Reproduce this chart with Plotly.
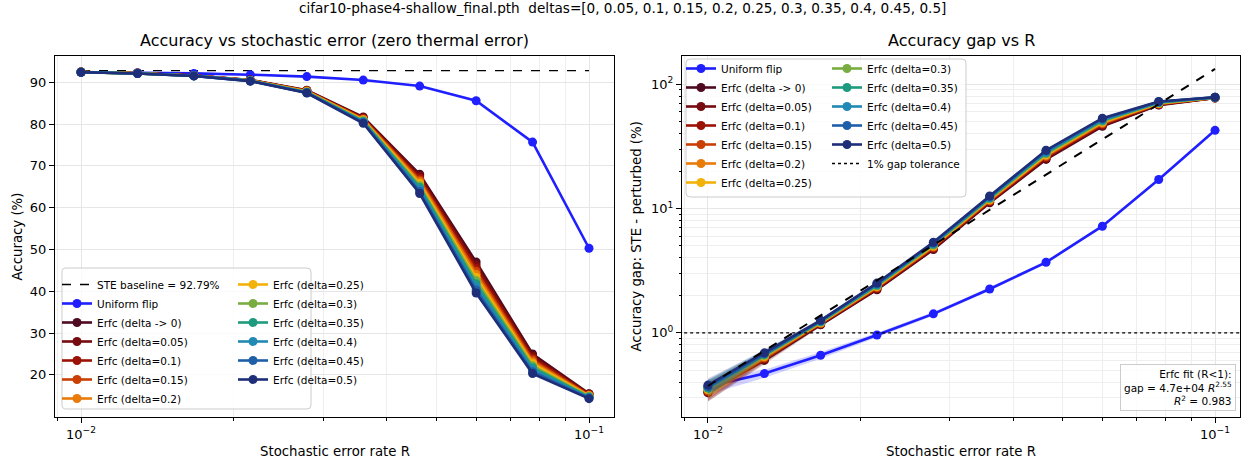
import plotly.graph_objects as go

# ---------------- data ----------------
R = [0.01, 0.01292, 0.01668, 0.02154, 0.02783, 0.03594, 0.04642, 0.05995, 0.07743, 0.1]
ste_baseline = 92.79

uniform_acc = [92.42, 92.32, 92.13, 91.83, 91.37, 90.54, 89.10, 85.59, 75.69, 50.29]
uniform_std = [0.05, 0.035, 0.04, 0.04, 0.05, 0.07, 0.10, 0.15, 0.30, 0.50]

erfc_labels = ["Erfc (delta -> 0)", "Erfc (delta=0.05)", "Erfc (delta=0.1)", "Erfc (delta=0.15)",
               "Erfc (delta=0.2)", "Erfc (delta=0.25)", "Erfc (delta=0.3)", "Erfc (delta=0.35)",
               "Erfc (delta=0.4)", "Erfc (delta=0.45)", "Erfc (delta=0.5)"]
erfc_acc_d000 = [92.46, 92.19, 91.63, 90.57, 88.12, 81.69, 67.99, 46.99, 24.99, 15.49]
erfc_acc_d005 = [92.46, 92.18, 91.62, 90.54, 88.05, 81.55, 67.55, 46.25, 24.50, 15.38]
erfc_acc_d010 = [92.45, 92.17, 91.61, 90.51, 87.98, 81.40, 67.10, 45.50, 24.05, 15.25]
erfc_acc_d015 = [92.45, 92.16, 91.60, 90.48, 87.92, 81.25, 66.65, 44.80, 23.60, 15.15]
erfc_acc_d020 = [92.44, 92.15, 91.59, 90.45, 87.85, 81.10, 66.20, 44.05, 23.10, 15.02]
erfc_acc_d025 = [92.44, 92.14, 91.58, 90.42, 87.78, 80.95, 65.70, 43.30, 22.65, 14.90]
erfc_acc_d030 = [92.43, 92.13, 91.57, 90.40, 87.71, 80.80, 65.25, 42.55, 22.15, 14.78]
erfc_acc_d035 = [92.43, 92.12, 91.56, 90.37, 87.64, 80.65, 64.80, 41.80, 21.70, 14.66]
erfc_acc_d040 = [92.42, 92.11, 91.55, 90.34, 87.58, 80.50, 64.30, 41.05, 21.20, 14.54]
erfc_acc_d045 = [92.42, 92.11, 91.54, 90.31, 87.51, 80.35, 63.85, 40.30, 20.75, 14.42]
erfc_acc_d050 = [92.41, 92.10, 91.53, 90.28, 87.44, 80.19, 63.39, 39.59, 20.29, 14.29]
erfc_acc = [erfc_acc_d000, erfc_acc_d005, erfc_acc_d010, erfc_acc_d015, erfc_acc_d020, erfc_acc_d025,
            erfc_acc_d030, erfc_acc_d035, erfc_acc_d040, erfc_acc_d045, erfc_acc_d050]
erfc_std = [0.05, 0.04, 0.04, 0.05, 0.07, 0.10, 0.20, 0.30, 0.30, 0.20]

fit_a = 4.7e4
fit_b = 2.55
fit_r2 = 0.983
tolerance = 1.0

# ---------------- style ----------------
W, H = 1244, 463
FONT = "DejaVu Sans"
uniform_color = "#1f1fff"
erfc_colors = ["#4e0a20", "#760b10", "#9b1206", "#c93f04", "#e97b0b", "#f2b20a",
               "#79ad41", "#1e9a7e", "#2189b3", "#1e5fa8", "#1e2e78"]
GRID = "#e6e6e6"
MINOR_GRID = "#eeeeee"


def px_x(p):
    return p / W


def px_y(p):
    return 1 - p / H


def rgba(hexc, a):
    h = hexc.lstrip("#")
    return "rgba(%d,%d,%d,%.2f)" % (int(h[0:2], 16), int(h[2:4], 16), int(h[4:6], 16), a)


fig = go.Figure()

# ---------- left panel ----------
fig.add_trace(go.Scatter(x=[R[0], R[-1]], y=[ste_baseline, ste_baseline], xaxis="x", yaxis="y",
                         mode="lines", line=dict(color="black", width=1.3, dash="dash"),
                         name="STE baseline = %.2f%%" % ste_baseline, legend="legend"))
fig.add_trace(go.Scatter(x=R, y=uniform_acc, xaxis="x", yaxis="y", mode="lines+markers",
                         line=dict(color=uniform_color, width=2.6), marker=dict(size=9, color=uniform_color),
                         name="Uniform flip", legend="legend"))
for i, (lab, acc) in enumerate(zip(erfc_labels, erfc_acc)):
    fig.add_trace(go.Scatter(x=R, y=acc, xaxis="x", yaxis="y", mode="lines+markers",
                             line=dict(color=erfc_colors[i], width=2.6),
                             marker=dict(size=9, color=erfc_colors[i]),
                             name=lab, legend="legend" if i < 5 else "legend2"))

# ---------- right panel ----------
u_gap = [ste_baseline - a for a in uniform_acc]
u_hi = [g + s for g, s in zip(u_gap, uniform_std)]
u_lo = [g - s for g, s in zip(u_gap, uniform_std)]
fig.add_trace(go.Scatter(x=R + R[::-1], y=u_hi + u_lo[::-1], xaxis="x2", yaxis="y2", mode="lines",
                         fill="toself", fillcolor=rgba(uniform_color, 0.2), line=dict(width=0),
                         showlegend=False, hoverinfo="skip"))
fig.add_trace(go.Scatter(x=R, y=u_gap, xaxis="x2", yaxis="y2", mode="lines+markers",
                         line=dict(color=uniform_color, width=2.6), marker=dict(size=9, color=uniform_color),
                         name="Uniform flip", legend="legend3"))
for i, (lab, acc) in enumerate(zip(erfc_labels, erfc_acc)):
    gap = [ste_baseline - a for a in acc]
    hi = [g + s for g, s in zip(gap, erfc_std)]
    lo = [g - s for g, s in zip(gap, erfc_std)]
    fig.add_trace(go.Scatter(x=R + R[::-1], y=hi + lo[::-1], xaxis="x2", yaxis="y2", mode="lines",
                             fill="toself", fillcolor=rgba(erfc_colors[i], 0.2), line=dict(width=0),
                             showlegend=False, hoverinfo="skip"))
    fig.add_trace(go.Scatter(x=R, y=gap, xaxis="x2", yaxis="y2", mode="lines+markers",
                             line=dict(color=erfc_colors[i], width=2.6),
                             marker=dict(size=9, color=erfc_colors[i]),
                             name=lab, legend="legend3" if i < 6 else "legend4"))
fit_y = [fit_a * r ** fit_b for r in R]
fig.add_trace(go.Scatter(x=R, y=fit_y, xaxis="x2", yaxis="y2", mode="lines",
                         line=dict(color="black", width=2, dash="dash"), showlegend=False))
fig.add_trace(go.Scatter(x=[0.0085, 0.12], y=[tolerance, tolerance], xaxis="x2", yaxis="y2", mode="lines",
                         line=dict(color="black", width=1.3, dash="dot"),
                         name="1% gap tolerance", legend="legend4"))

# ---------- axes ----------
minor_x = [0.009, 0.02, 0.03, 0.04, 0.05, 0.06, 0.07, 0.08, 0.09]
minor_y2 = [0.3, 0.4, 0.5, 0.6, 0.7, 0.8, 0.9, 2, 3, 4, 5, 6, 7, 8, 9, 20, 30, 40, 50, 60, 70, 80, 90]
dom_left = [px_x(55), px_x(614)]
dom_right = [px_x(682), px_x(1240)]
dom_y = [px_y(417), px_y(56)]
tickfont = dict(family=FONT, size=13, color="black")

common = dict(showline=True, linecolor="black", linewidth=1, mirror=True, ticks="outside",
              ticklen=5, tickcolor="black", showgrid=True, gridcolor=GRID, gridwidth=1,
              zeroline=False, tickfont=tickfont)
log_x = dict(type="log", range=[-2.0512, -0.9508], tickvals=[0.01, 0.1],
             ticktext=["10<sup>−2</sup>", "10<sup>−1</sup>"],
             minor=dict(tickvals=minor_x, ticks="outside", ticklen=2.5, tickcolor="black",
                        showgrid=True, gridcolor=MINOR_GRID, gridwidth=1), **common)

fig.update_layout(
    xaxis=dict(domain=dom_left, anchor="y", **log_x),
    yaxis=dict(domain=dom_y, anchor="x", range=[9.9, 96.3], tickvals=[20, 30, 40, 50, 60, 70, 80, 90], **common),
    xaxis2=dict(domain=dom_right, anchor="y2", **log_x),
    yaxis2=dict(domain=dom_y, anchor="x2", type="log", range=[-0.677, 2.226], tickvals=[1, 10, 100],
                ticktext=["10<sup>0</sup>", "10<sup>1</sup>", "10<sup>2</sup>"],
                minor=dict(tickvals=minor_y2, ticks="outside", ticklen=2.5, tickcolor="black",
                           showgrid=True, gridcolor=MINOR_GRID, gridwidth=1), **common),
)

# ---------- legends ----------
leg_common = dict(bgcolor="rgba(0,0,0,0)", borderwidth=0, font=dict(family=FONT, size=10.5, color="black"),
                  xanchor="left", yanchor="top", itemwidth=30, tracegroupgap=0)
fig.update_layout(
    legend=dict(x=px_x(57), y=px_y(270), **leg_common),
    legend2=dict(x=px_x(233), y=px_y(270), **leg_common),
    legend3=dict(x=px_x(681), y=px_y(54), **leg_common),
    legend4=dict(x=px_x(827), y=px_y(54), **leg_common),
)


def rounded_box(x0, y0, x1, y1, r=4):
    X0, X1 = px_x(x0), px_x(x1)
    Y0, Y1 = px_y(y1), px_y(y0)
    rx, ry = r / W, r / H
    path = ("M %f,%f L %f,%f Q %f,%f %f,%f L %f,%f Q %f,%f %f,%f L %f,%f Q %f,%f %f,%f L %f,%f Q %f,%f %f,%f Z" % (
        X0 + rx, Y0, X1 - rx, Y0, X1, Y0, X1, Y0 + ry, X1, Y1 - ry, X1, Y1, X1 - rx, Y1,
        X0 + rx, Y1, X0, Y1, X0, Y1 - ry, X0, Y0 + ry, X0, Y0, X0 + rx, Y0))
    return dict(type="path", path=path, xref="paper", yref="paper", fillcolor="rgba(255,255,255,0.8)",
                line=dict(color="#cccccc", width=1), layer="above")


fig.update_layout(shapes=[rounded_box(62, 268, 311, 409), rounded_box(686, 59, 966, 197)])

# ---------- text ----------
ann = []
ann.append(dict(text="cifar10-phase4-shallow_final.pth  deltas=[0, 0.05, 0.1, 0.15, 0.2, 0.25, 0.3, 0.35, 0.4, 0.45, 0.5]",
                x=0.5, y=px_y(8), xref="paper", yref="paper", showarrow=False, xanchor="center", yanchor="middle",
                font=dict(family=FONT, size=13.6, color="black")))
ann.append(dict(text="Accuracy vs stochastic error (zero thermal error)", x=(dom_left[0] + dom_left[1]) / 2,
                y=px_y(41), xref="paper", yref="paper", showarrow=False, xanchor="center", yanchor="middle",
                font=dict(family=FONT, size=16, color="black")))
ann.append(dict(text="Accuracy gap vs R", x=(dom_right[0] + dom_right[1]) / 2,
                y=px_y(41), xref="paper", yref="paper", showarrow=False, xanchor="center", yanchor="middle",
                font=dict(family=FONT, size=16, color="black")))
for d in (dom_left, dom_right):
    ann.append(dict(text="Stochastic error rate R", x=(d[0] + d[1]) / 2, y=px_y(451), xref="paper", yref="paper",
                    showarrow=False, xanchor="center", yanchor="middle", font=dict(family=FONT, size=13.3, color="black")))
ann.append(dict(text="Accuracy (%)", x=px_x(17), y=(dom_y[0] + dom_y[1]) / 2, xref="paper", yref="paper",
                textangle=-90, showarrow=False, xanchor="center", yanchor="middle",
                font=dict(family=FONT, size=13.3, color="black")))
ann.append(dict(text="Accuracy gap: STE - perturbed (%)", x=px_x(636), y=(dom_y[0] + dom_y[1]) / 2, xref="paper",
                yref="paper", textangle=-90, showarrow=False, xanchor="center", yanchor="middle",
                font=dict(family=FONT, size=13.3, color="black")))
ann.append(dict(text="Erfc fit (R<1):<br>gap = %.1e <i>R</i><sup>%.2f</sup><br><i>R</i><sup>2</sup> = %.3f"
                     % (fit_a, fit_b, fit_r2),
                x=px_x(1236), y=px_y(411), xref="paper", yref="paper", showarrow=False, xanchor="right",
                yanchor="bottom", align="right", bgcolor="rgba(255,255,255,0.8)", bordercolor="#cccccc",
                borderwidth=1, borderpad=3, font=dict(family=FONT, size=10.5, color="black")))

fig.update_layout(annotations=ann, width=W, height=H, margin=dict(l=0, r=0, t=0, b=0),
                  paper_bgcolor="white", plot_bgcolor="white", font=dict(family=FONT, color="black"))

fig.write_html("out.html", config={"displayModeBar": False},
               post_script="document.body.style.margin='0';document.body.style.overflow='hidden';")
